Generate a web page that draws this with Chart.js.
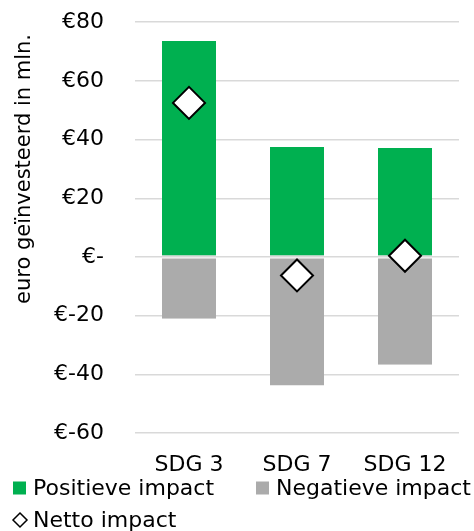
<!DOCTYPE html>
<html>
<head>
<meta charset="utf-8">
<script src="https://cdn.jsdelivr.net/npm/chart.js@4/dist/chart.umd.min.js"></script>
<style>
  html, body { margin: 0; padding: 0; background: #fff; }
  #wrap { width: 474px; height: 531px; }
</style>
</head>
<body>
<div id="wrap"><canvas id="c" width="474" height="531"></canvas></div>
<script>
const categories = ['SDG 3', 'SDG 7', 'SDG 12'];
const positiveImpact = [73.6, 37.5, 37.1];
const negativeImpact = [-21.1, -43.8, -36.7];
const netImpact = [52.5, -6.3, 0.4];
const seriesLabels = ['Positieve impact', 'Negatieve impact', 'Netto impact'];
const yTitle = 'euro geïnvesteerd in mln.';
const yMin = -60, yMax = 80, yStep = 20;

const FONT = '"DejaVu Sans", sans-serif';
const GREEN = '#00B050';
const GRAY = '#ABABAB';

Chart.defaults.color = '#000';
Chart.defaults.font.family = FONT;

const customText = {
  id: 'customText',
  afterDraw(chart) {
    const ctx = chart.ctx;
    // y-axis title
    ctx.save();
    ctx.font = '21px ' + FONT;
    ctx.fillStyle = '#000';
    ctx.translate(30, 169);
    ctx.rotate(-Math.PI / 2);
    ctx.textAlign = 'center';
    ctx.textBaseline = 'alphabetic';
    ctx.fillText(yTitle, 0, 0);
    ctx.restore();

    // legend
    const ds = chart.data.datasets;
    ctx.save();
    ctx.font = '22px ' + FONT;
    ctx.fillStyle = '#000';
    ctx.textAlign = 'left';
    ctx.textBaseline = 'middle';
    const items = [
      { x: 13, y: 488, ds: ds[0] },
      { x: 256, y: 488, ds: ds[1] },
      { x: 13, y: 520, ds: ds[2] }
    ];
    items.forEach(it => {
      if (it.ds.type === 'line') {
        const cx = it.x + 7, cy = it.y, r = 7;
        ctx.beginPath();
        ctx.moveTo(cx, cy - r);
        ctx.lineTo(cx + r, cy);
        ctx.lineTo(cx, cy + r);
        ctx.lineTo(cx - r, cy);
        ctx.closePath();
        ctx.fillStyle = it.ds.backgroundColor;
        ctx.fill();
        ctx.lineWidth = 1.5;
        ctx.strokeStyle = it.ds.borderColor;
        ctx.stroke();
      } else {
        ctx.fillStyle = it.ds.backgroundColor;
        ctx.fillRect(it.x, it.y - 6.5, 13, 13);
      }
      ctx.fillStyle = '#000';
      ctx.fillText(it.ds.label, it.x + 20, it.y + 1);
    });
    ctx.restore();
  }
};

new Chart(document.getElementById('c'), {
  data: {
    labels: categories,
    datasets: [
      {
        type: 'bar',
        label: seriesLabels[0],
        data: positiveImpact,
        backgroundColor: GREEN,
        borderColor: '#d9d9d9',
        borderWidth: { top: 0, left: 0, right: 0, bottom: 1 },
        borderSkipped: false,
        stack: 'impact',
        order: 1,
        categoryPercentage: 1,
        barPercentage: 0.5
      },
      {
        type: 'bar',
        label: seriesLabels[1],
        data: negativeImpact,
        backgroundColor: GRAY,
        borderColor: '#d9d9d9',
        borderWidth: { top: 1, left: 0, right: 0, bottom: 0 },
        borderSkipped: false,
        stack: 'impact',
        order: 1,
        categoryPercentage: 1,
        barPercentage: 0.5
      },
      {
        type: 'line',
        label: seriesLabels[2],
        data: netImpact,
        showLine: false,
        pointStyle: 'rectRot',
        pointRadius: 16,
        pointHoverRadius: 16,
        pointBackgroundColor: '#ffffff',
        pointBorderColor: '#000000',
        pointBorderWidth: 2,
        backgroundColor: '#ffffff',
        borderColor: '#000000',
        stack: 'net',
        order: 0
      }
    ]
  },
  options: {
    responsive: false,
    animation: false,
    events: [],
    layout: { autoPadding: false, padding: { left: 0, right: 15, top: 22, bottom: 0 } },
    plugins: {
      legend: { display: false },
      tooltip: { enabled: false },
      title: { display: false }
    },
    scales: {
      x: {
        stacked: true,
        grid: { display: false, drawTicks: false },
        border: { display: false },
        ticks: { font: { size: 22, family: FONT }, color: '#000', padding: 19, maxRotation: 0 },
        afterFit(scale) { scale.height = 98; }
      },
      y: {
        stacked: true,
        min: yMin,
        max: yMax,
        grid: { color: '#d9d9d9', lineWidth: 1.5, drawTicks: true, tickLength: 22, tickColor: 'rgba(0,0,0,0)' },
        border: { display: false },
        ticks: {
          stepSize: yStep,
          padding: 9,
          font: { size: 22, family: FONT },
          color: '#000',
          callback: v => v === 0 ? '€-' : '€' + v
        },
        afterFit(scale) { scale.width = 135; }
      }
    }
  },
  plugins: [customText]
});
</script>
</body>
</html>
